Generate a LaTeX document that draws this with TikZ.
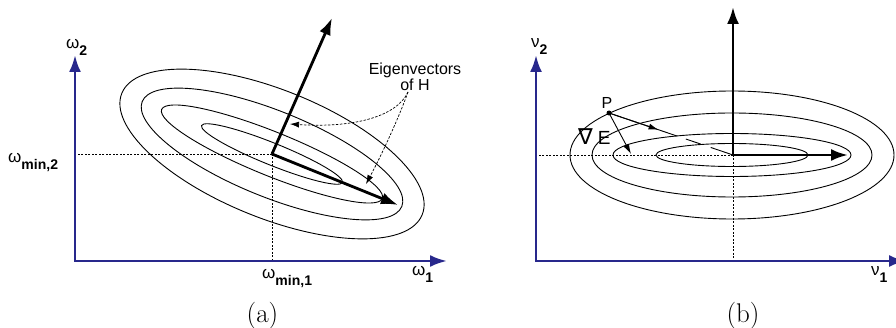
\documentclass[tikz,border=0pt]{standalone}
\usepackage{fontspec}
\newfontfamily\lsans{Liberation Sans}
\newfontfamily\dvs{DejaVu Sans}
\usetikzlibrary{arrows.meta,calc}
\definecolor{axisblue}{RGB}{40,40,140}
\newcommand\gsub[2]{{\fontsize{17}{17}\selectfont #1}\raisebox{-7pt}{\fontsize{14}{14}\selectfont\bfseries #2}}
\tikzset{
  axis/.style={draw=axisblue, line width=2.7pt, {Latex[length=17pt,width=12pt]}-{Latex[length=17pt,width=12pt]}},
  ell/.style={draw=black, line width=0.9pt},
  eig/.style={draw=black, line width=2.8pt, -{Latex[length=17pt,width=12pt]}},
  guide/.style={draw=black, line width=0.7pt, dash pattern=on 2pt off 1.5pt},
  callout/.style={draw=black, line width=0.7pt, dash pattern=on 2.5pt off 1.5pt, -{Latex[length=9pt,width=6pt]}},
  thinarrow/.style={draw=black, line width=0.9pt, -{Latex[length=10pt,width=6pt]}},
  thinline/.style={draw=black, line width=0.9pt},
  lbl/.style={inner sep=0pt, font=\lsans},
  captext/.style={inner sep=0pt, anchor=base, scale=1.35, font=\fontsize{20}{20}\selectfont},
}
\begin{document}
\begin{tikzpicture}[x=1pt,y=-1pt]
\useasboundingbox (0,0) rectangle (896,328);
\clip (0,0) rectangle (896,328);
% ---------- panel (a)
\coordinate (Oa) at (75,261);
\coordinate (Ya) at (75,55);
\coordinate (Xa) at (447,261);
\coordinate (Ca) at (272,154);
\coordinate (E1a) at (398,205);
\coordinate (E2a) at (332,18);
\foreach \a/\b in {162/64,140/43,119/22,76/11}
  \draw[ell, rotate around={-22:(Ca)}] (Ca) ellipse [x radius=\a, y radius=\b];
\draw[guide] (Ca) -- (Ca -| Oa);
\draw[guide] (Ca) -- (Ca |- Oa);
\draw[axis] (Ya) -- (Oa) -- (Xa);
\draw[eig] (Ca) -- (E1a);
\draw[eig] (Ca) -- (E2a);
\node[lbl, anchor=base west] (w2) at (66,49) {\gsub{ω}{2}};
\node[lbl, anchor=base west] (wm2) at (8,163) {\gsub{ω}{min,2}};
\node[lbl, anchor=base west] (wm1) at (262,279) {\gsub{ω}{min,1}};
\node[lbl, anchor=base west] (w1) at (412,276) {\gsub{ω}{1}};
\node[lbl, align=center, font=\lsans\fontsize{16}{15.5}\selectfont] (eigtxt) at (415,77) {Eigenvectors\\of H};
\coordinate (cs) at (408,92);
\coordinate (t1) at (290,124);
\coordinate (t2) at (366,184);
\draw[callout] (cs) .. controls (396,118) and (350,128) .. (t1);
\draw[callout] (cs) .. controls (398,120) and (380,158) .. (t2);
\node[captext] (capa) at (262.5,323) {(a)};
% ---------- panel (b)
\coordinate (Ob) at (536,261);
\coordinate (Yb) at (536,55);
\coordinate (Xb) at (906,261);
\coordinate (Cb) at (733,155);
\coordinate (E1b) at (848,155);
\coordinate (E2b) at (733,7);
\foreach \a/\b in {162/64,140/42,119/21.5,76/11.5}
  \draw[ell] (732,155) ellipse [x radius=\a, y radius=\b];
\draw[guide] (Cb) -- (Cb -| Ob);
\draw[guide] (Cb) -- (Cb |- Ob);
\draw[axis] (Yb) -- (Ob) -- (Xb);
\draw[eig] (Cb) -- (E1b);
\draw[eig] (Cb) -- (E2b);
\node[lbl, anchor=base west] (n2) at (531,48) {\gsub{ν}{2}};
\node[lbl, anchor=base west] (n1) at (871,276) {\gsub{ν}{1}};
\node[circle, fill=black, inner sep=0pt, minimum size=5pt] (P) at (609,113) {};
\node[lbl, font=\lsans\fontsize{16}{16}\selectfont] (Ptxt) at (607,103) {P};
\node[lbl, anchor=base west] (grad) at (578,145) {{\dvs\fontsize{22}{22}\selectfont ∇}\hspace{5pt}{\lsans\fontsize{19}{19}\selectfont E}};
\coordinate (g1) at (631,154);
\draw[thinarrow] (P.center) -- (g1);
\draw[thinarrow] (P.center) -- ($(P.center)!0.40!(Cb)$);
\draw[thinline] (P.center) -- ($(P.center)!0.55!(Cb)$);
\draw[thinline] ($(P.center)!0.62!(Cb)$) -- ($(P.center)!0.74!(Cb)$);
\draw[thinline] ($(P.center)!0.82!(Cb)$) -- (Cb);
\node[captext] (capb) at (743,323) {(b)};
\end{tikzpicture}
\end{document}
